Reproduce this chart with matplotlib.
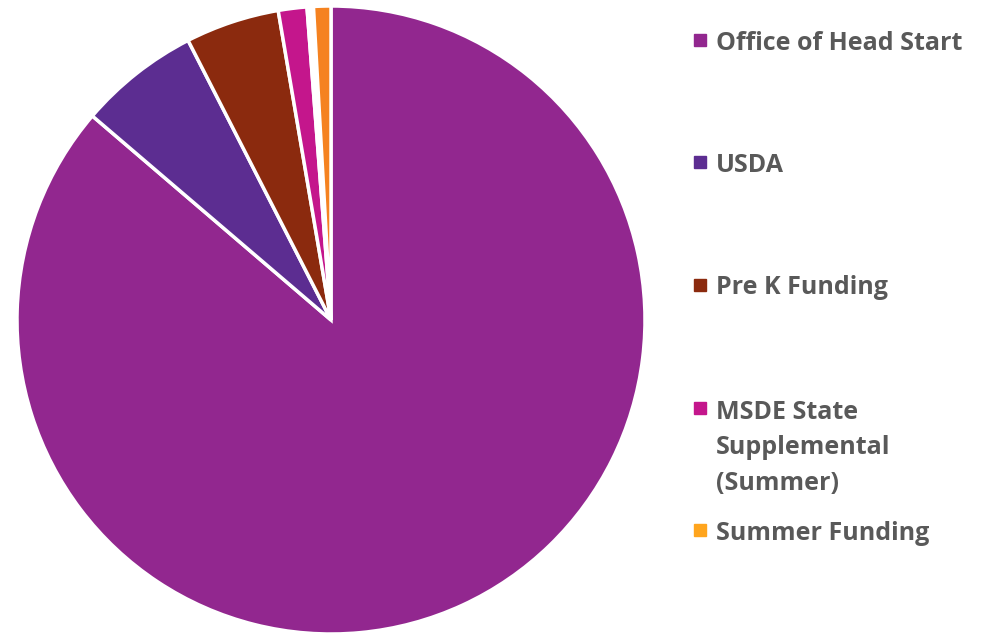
import matplotlib.pyplot as plt
from matplotlib.patches import Rectangle

labels = ['Office of Head Start', 'USDA', 'Pre K Funding',
          'MSDE State\nSupplemental\n(Summer)', 'Summer Funding']
# share of total funding, in percent
values = [86.25, 6.22, 4.83, 1.47, 0.89]
gap = 0.33  # unlabeled sliver between MSDE and Summer Funding
colors = ['#92278F', '#5C2D91', '#8B2A0E', '#C4168C', '#F58220']
legend_colors = ['#92278F', '#5C2D91', '#8B2A0E', '#C4168C', '#FFA51D']

plt.rcParams['font.family'] = ['Open Sans', 'DejaVu Sans']

fig = plt.figure(figsize=(10, 6.34), dpi=100)
ax = fig.add_axes([0.017, 0.0, 0.628, 628 / 634])

vals = values[:4] + [gap] + values[4:]
cols = colors[:4] + ['white'] + colors[4:]
ax.pie(vals, colors=cols, startangle=90, counterclock=False, radius=1,
       wedgeprops=dict(edgecolor='white', linewidth=2.5))
ax.set_xlim(-1, 1)
ax.set_ylim(-1, 1)
ax.set_aspect('equal')
ax.axis('off')

# legend, placed by hand (pixel positions from the top)
marker_y = [40, 162, 285, 408, 530]
text_y = [43, 165, 288, 448, 533]
W, H = 1000, 634
for lab, c, my, ty in zip(labels, legend_colors, marker_y, text_y):
    fig.patches.append(Rectangle((694 / W, (H - my - 6) / H), 12 / W, 12 / H,
                                 transform=fig.transFigure, color=c))
    fig.text(716 / W, (H - ty) / H, lab, ha='left', va='center',
             fontsize=18, fontweight='bold', color='#595959', linespacing=1.55)

fig.savefig('out.png', dpi=100)
